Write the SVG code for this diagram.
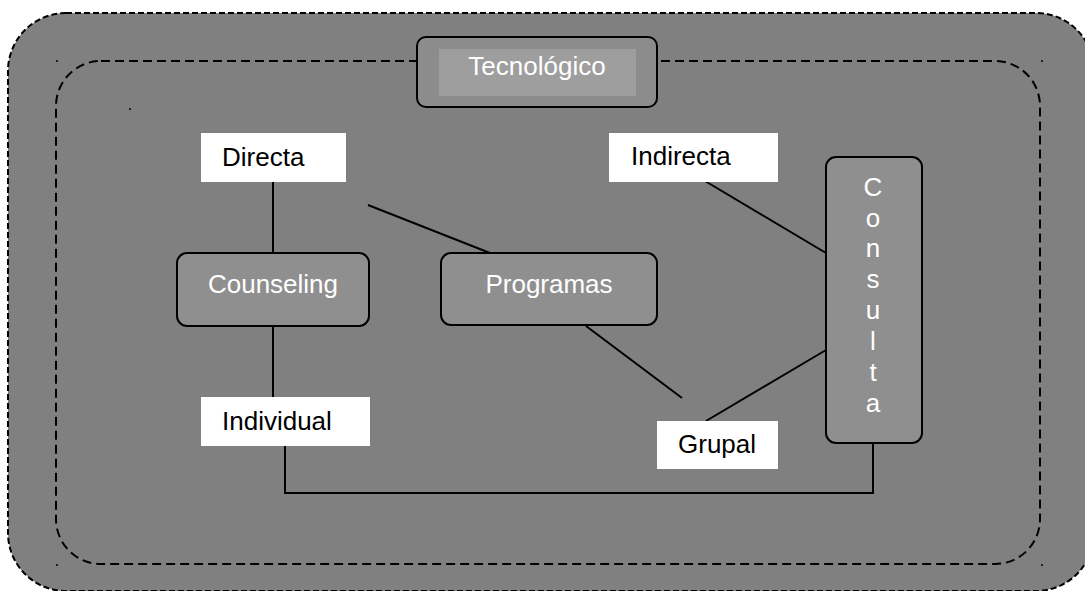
<svg xmlns="http://www.w3.org/2000/svg" width="1085" height="591" viewBox="0 0 1085 591">
<style>
.bx{fill:#8f8f8f;stroke:#000;stroke-width:2}
.lb{fill:#fff}
.tw{font-family:"Liberation Sans",Arial,sans-serif;font-size:26px;fill:#fff}
.tb{font-family:"Liberation Sans",Arial,sans-serif;font-size:26px;fill:#000}
.ln{stroke:#000;stroke-width:2;fill:none}
.dot{fill:#000}
</style>
<rect width="1085" height="591" fill="#fff"/>
<g id="frame">
<rect x="8" y="13" width="1086" height="578" rx="58" fill="#808080" stroke="#000" stroke-width="2" stroke-dasharray="6,3"/>
<rect x="56" y="61" width="984" height="503" rx="45" fill="none" stroke="#000" stroke-width="2" stroke-dasharray="9,5"/>
<circle class="dot" cx="57" cy="61" r="1"/>
<circle class="dot" cx="130" cy="109" r="1"/>
<circle class="dot" cx="1042" cy="61" r="1"/>
<circle class="dot" cx="57" cy="565" r="1"/>
<circle class="dot" cx="1042" cy="565" r="1"/>
</g>
<g id="connectors">
<line class="ln" x1="273" y1="182" x2="273" y2="253"/>
<line class="ln" x1="273" y1="326" x2="273" y2="397"/>
<line class="ln" x1="368" y1="205" x2="490" y2="253"/>
<line class="ln" x1="586" y1="326" x2="682" y2="398"/>
<line class="ln" x1="706" y1="421" x2="826" y2="350"/>
<line class="ln" x1="705" y1="181" x2="826" y2="253"/>
<polyline class="ln" points="285,446 285,493 873,493 873,443"/>
</g>
<g id="tecnologico">
<rect x="417" y="37" width="240" height="70" rx="9" fill="#8c8c8c" stroke="#000" stroke-width="2"/>
<rect x="439" y="49" width="197" height="47" fill="#9e9e9e"/>
<text class="tw" x="537" y="75" text-anchor="middle">Tecnológico</text>
</g>
<g id="directa">
<rect class="lb" x="201" y="133" width="145" height="49"/>
<text class="tb" x="222" y="166">Directa</text>
</g>
<g id="indirecta">
<rect class="lb" x="609" y="133" width="169" height="49"/>
<text class="tb" x="631" y="165">Indirecta</text>
</g>
<g id="counseling">
<rect class="bx" x="177" y="253" width="192" height="73" rx="10"/>
<text class="tw" x="273" y="293" text-anchor="middle">Counseling</text>
</g>
<g id="programas">
<rect class="bx" x="441" y="253" width="216" height="72" rx="10"/>
<text class="tw" x="549" y="293" text-anchor="middle">Programas</text>
</g>
<g id="consulta">
<rect class="bx" x="826" y="157" width="96" height="286" rx="10"/>
<g class="tw" text-anchor="middle">
<text x="873" y="196">C</text>
<text x="873" y="227">o</text>
<text x="873" y="257">n</text>
<text x="873" y="288">s</text>
<text x="873" y="319">u</text>
<text x="873" y="350">l</text>
<text x="873" y="381">t</text>
<text x="873" y="412">a</text>
</g>
</g>
<g id="individual">
<rect class="lb" x="201" y="397" width="169" height="49"/>
<text class="tb" x="222" y="430">Individual</text>
</g>
<g id="grupal">
<rect class="lb" x="657" y="421" width="121" height="48"/>
<text class="tb" x="678" y="453">Grupal</text>
</g>
</svg>
